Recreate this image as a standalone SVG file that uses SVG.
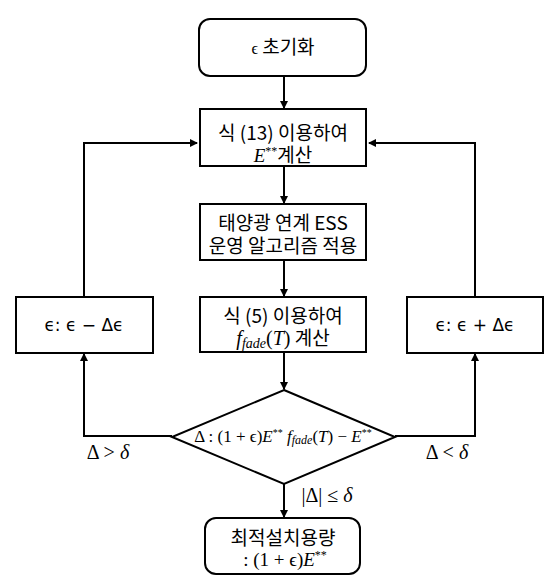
<svg xmlns="http://www.w3.org/2000/svg" width="556" height="586" viewBox="0 0 556 586">
<style>
.box{fill:#fff;stroke:#000;stroke-width:2}
.ln{fill:none;stroke:#000;stroke-width:2}
.kr{font-family:"Noto Sans CJK KR","Noto Sans",sans-serif;font-size:19px;fill:#000}
.m{font-family:"Liberation Serif","DejaVu Serif",serif;font-style:italic}
.mr{font-family:"Liberation Serif","DejaVu Serif",serif;font-style:normal}
.ds{font-family:"DejaVu Sans","Liberation Sans",sans-serif;font-size:17px;fill:#000}
.lab{font-family:"Liberation Serif","DejaVu Serif",serif;font-size:20px;fill:#000}
</style>
<defs>
<marker id="ah" markerWidth="8" markerHeight="8" refX="7" refY="4" orient="auto" markerUnits="userSpaceOnUse">
<path d="M0,0 L8,4 L0,8 Z" fill="#000"/>
</marker>
</defs>
<g id="connectors">
<line class="ln" x1="284" y1="76" x2="284" y2="108" marker-end="url(#ah)"/>
<line class="ln" x1="284" y1="166" x2="284" y2="203" marker-end="url(#ah)"/>
<line class="ln" x1="284" y1="260" x2="284" y2="296" marker-end="url(#ah)"/>
<line class="ln" x1="284" y1="352" x2="284" y2="389" marker-end="url(#ah)"/>
<line class="ln" x1="284" y1="484" x2="284" y2="517" marker-end="url(#ah)"/>
<polyline class="ln" points="172,436 84,436 84,354" marker-end="url(#ah)"/>
<polyline class="ln" points="84,297 84,143 197,143" marker-end="url(#ah)"/>
<polyline class="ln" points="395,436 475,436 475,354" marker-end="url(#ah)"/>
<polyline class="ln" points="475,297 475,143 369,143" marker-end="url(#ah)"/>
</g>
<g id="n1">
<rect class="box" x="199" y="19" width="167" height="57" rx="11"/>
<text class="kr" x="283" y="54" text-anchor="middle"><tspan class="mr" font-size="16">ϵ</tspan> 초기화</text>
</g>
<g id="n2">
<rect class="box" x="200" y="109" width="166" height="57"/>
<text class="kr" text-anchor="middle"><tspan x="283" y="140">식 (13) 이용하여</tspan><tspan x="283" y="162"><tspan class="m">E</tspan><tspan class="mr" font-size="12" dy="-7">**</tspan><tspan dy="7">계산</tspan></tspan></text>
</g>
<g id="n3">
<rect class="box" x="200" y="204" width="166" height="56"/>
<text class="kr" text-anchor="middle"><tspan x="283" y="230">태양광 연계 ESS</tspan><tspan x="283" y="253">운영 알고리즘 적용</tspan></text>
</g>
<g id="n4">
<rect class="box" x="200" y="297" width="166" height="55"/>
<text class="kr" text-anchor="middle"><tspan x="283" y="323">식 (5) 이용하여</tspan><tspan x="283" y="345"><tspan class="m" font-size="20">f</tspan><tspan class="m" font-size="14" dy="3">fade</tspan><tspan class="mr" font-size="20" dy="-3">(</tspan><tspan class="m" font-size="20">T</tspan><tspan class="mr" font-size="20">)</tspan> 계산</tspan></text>
</g>
<g id="n5">
<rect class="box" x="16" y="297" width="137" height="56"/>
<text class="ds" x="84" y="331" text-anchor="middle">ϵ: ϵ − Δϵ</text>
</g>
<g id="n6">
<rect class="box" x="407" y="297" width="136" height="56"/>
<text class="ds" x="475" y="331" text-anchor="middle">ϵ: ϵ + Δϵ</text>
</g>
<g id="n7">
<polygon class="box" points="284,390 395,437 284,484 172,437"/>
<text class="mr" x="283" y="442" font-size="17" text-anchor="middle">Δ : (1 + ϵ)<tspan class="m">E</tspan><tspan font-size="10" dy="-6">**</tspan><tspan class="m" dy="6"> f</tspan><tspan class="m" font-size="12" dy="2">fade</tspan><tspan dy="-2">(</tspan><tspan class="m">T</tspan>) − <tspan class="m">E</tspan><tspan font-size="10" dy="-6">**</tspan></text>
</g>
<g id="n8">
<rect class="box" x="205" y="518" width="155" height="56" rx="11"/>
<text text-anchor="middle"><tspan class="kr" x="283" y="545">최적설치용량</tspan><tspan class="mr" x="285" y="566" font-size="19">: (1 + ϵ)<tspan class="m">E</tspan><tspan font-size="12" dy="-7">**</tspan></tspan></text>
</g>
<g id="labels">
<text class="lab" x="108" y="459" text-anchor="middle">Δ &gt; <tspan class="m">δ</tspan></text>
<text class="lab" x="447" y="459" text-anchor="middle">Δ &lt; <tspan class="m">δ</tspan></text>
<text class="lab" x="327" y="502" text-anchor="middle">|Δ| ≤ <tspan class="m">δ</tspan></text>
</g>
</svg>
